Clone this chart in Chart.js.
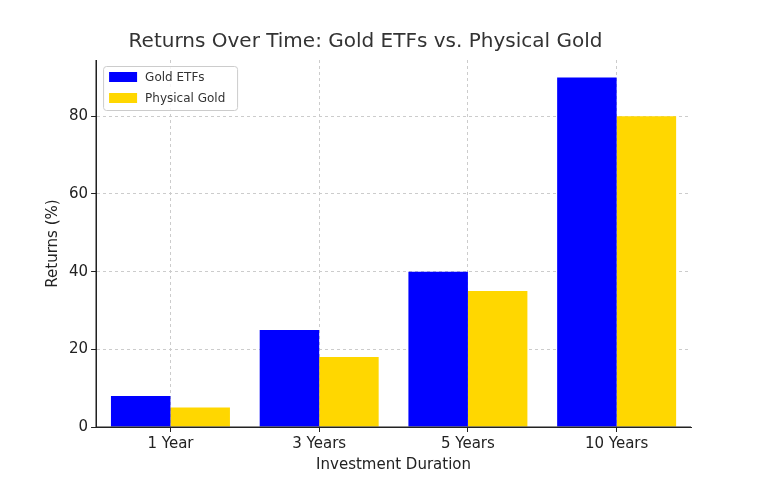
<!DOCTYPE html>
<html><head><script src="https://cdn.jsdelivr.net/npm/chart.js"></script>
<style>body{margin:0;background:#fff}#w{width:768px;height:480px}</style></head>
<body><div id="w"><canvas id="c"></canvas></div>
<script>
const categories=["1 Year","3 Years","5 Years","10 Years"];
const etfValues=[8,25,40,90];
const goldValues=[5,18,35,80];
const yTicks=[0,20,40,60,80];
const F="'DejaVu Sans', sans-serif";
const legendPlugin={id:'lg',afterDraw(ch){const c=ch.ctx,a=ch.chartArea;const x=a.left+7,y=a.top+6;
c.save();c.fillStyle='rgba(255,255,255,0.8)';c.strokeStyle='#ccc';c.lineWidth=1;
c.beginPath();c.roundRect(x+0.5,y+0.5,134,44,3);c.fill();c.stroke();
c.font='12px '+F;c.textBaseline='middle';
ch.data.datasets.forEach((d,i)=>{const yy=y+11+i*21;c.fillStyle=d.backgroundColor;c.fillRect(x+6,yy-5,28,10);c.fillStyle='#333';c.fillText(d.label,x+42,yy+1);});
c.restore();}};
new Chart(document.getElementById('c'),{type:'bar',
data:{labels:categories,datasets:[
{label:'Gold ETFs',data:etfValues,backgroundColor:'#0000FF'},
{label:'Physical Gold',data:goldValues,backgroundColor:'#FFD700'}]},
options:{responsive:true,maintainAspectRatio:false,animation:false,
layout:{padding:{left:40,right:77,top:0,bottom:2}},
datasets:{bar:{categoryPercentage:0.8,barPercentage:1}},
plugins:{legend:{display:false},tooltip:{enabled:false},
title:{display:true,text:'Returns Over Time: Gold ETFs vs. Physical Gold',color:'#333',font:{family:F,size:20,weight:'normal'},padding:{top:30,bottom:6}}},
scales:{
x:{grid:{color:'#ccc',tickColor:'#222',tickLength:5,offset:false},border:{color:'#222',dash:[3,3]},
ticks:{color:'#222',font:{family:F,size:15}},
title:{display:true,text:'Investment Duration',color:'#222',font:{family:F,size:15},padding:{top:0}}},
y:{min:0,max:94.5,afterBuildTicks(s){s.ticks=yTicks.map(v=>({value:v}));},
grid:{color:'#ccc',tickColor:'#222',tickLength:5},border:{color:'#222',dash:[3,3]},
ticks:{color:'#222',font:{family:F,size:15}},
title:{display:true,text:'Returns (%)',color:'#222',font:{family:F,size:15}}}}},
plugins:[legendPlugin,{id:'ax',afterDraw(ch){const c=ch.ctx,a=ch.chartArea;c.save();c.strokeStyle='#222';c.lineWidth=1.2;c.beginPath();c.moveTo(a.left,a.top);c.lineTo(a.left,a.bottom);c.lineTo(a.right,a.bottom);c.stroke();c.restore();}}]
});
</script></body></html>
